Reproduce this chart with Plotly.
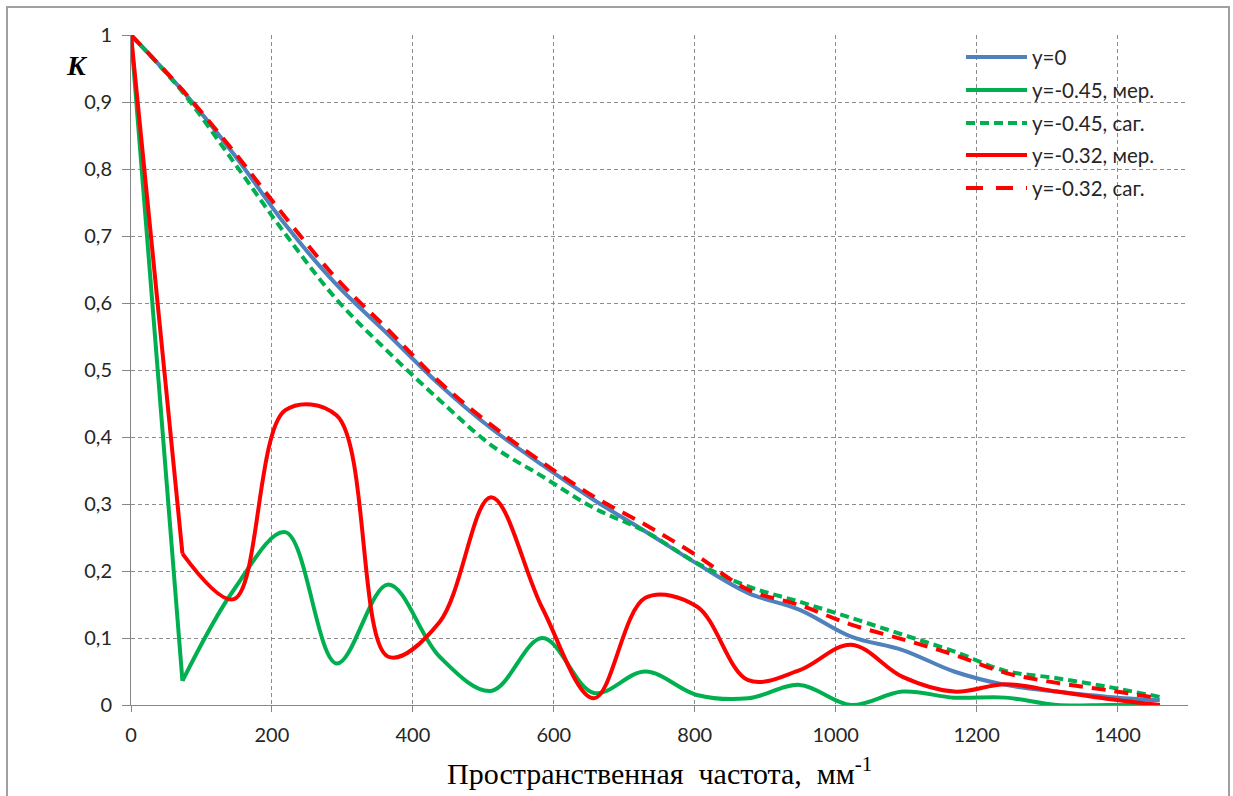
import plotly.graph_objects as go

# Spatial frequency samples, mm^-1
freq = [0, 73, 146, 219, 292, 365, 438, 511, 584, 657, 730, 803, 876, 949,
        1022, 1095, 1168, 1241, 1314, 1387, 1460]

# Contrast K for each field position / section
k_y0 = [1.0, 0.917, 0.822, 0.717, 0.627, 0.553, 0.478, 0.413, 0.358, 0.306,
        0.259, 0.211, 0.167, 0.142, 0.102, 0.082, 0.05, 0.03, 0.02, 0.012, 0.007]
k_045_mer = [1.0, 0.036, 0.172, 0.258, 0.062, 0.18, 0.072, 0.021, 0.10, 0.018,
             0.05, 0.015, 0.01, 0.03, 0.0, 0.02, 0.011, 0.011, 0.0, 0.0, 0.0]
k_045_sag = [1.0, 0.915, 0.81, 0.703, 0.605, 0.527, 0.455, 0.388, 0.341, 0.294,
             0.259, 0.212, 0.177, 0.154, 0.13, 0.105, 0.08, 0.051, 0.04, 0.027, 0.012]
k_032_mer = [1.0, 0.226, 0.158, 0.44, 0.432, 0.072, 0.124, 0.31, 0.144, 0.01,
             0.16, 0.147, 0.037, 0.052, 0.09, 0.042, 0.02, 0.031, 0.02, 0.009, 0.0]
k_032_sag = [1.0, 0.918, 0.826, 0.728, 0.636, 0.56, 0.482, 0.418, 0.362, 0.311,
             0.269, 0.223, 0.172, 0.149, 0.12, 0.098, 0.075, 0.048, 0.033, 0.022, 0.01]

names = ["y=0", "y=-0.45, мер.", "y=-0.45, саг.", "y=-0.32, мер.", "y=-0.32, саг."]
series = [k_y0, k_045_mer, k_045_sag, k_032_mer, k_032_sag]
colors = ["#4F81BD", "#00B050", "#00B050", "#FF0000", "#FF0000"]
dashes = ["solid", "solid", "9px,5px", "solid", "14px,9px"]
legend_dashes = ["solid", "solid", "9px,5px", "solid", "17px,13px"]
# meridional curves fall straight from the first sample, with a corner after it
straight_head = [False, True, False, True, False]

x_title = "Пространственная\u00a0\u00a0частота,\u00a0\u00a0мм<sup>-1</sup>"
y_title = "<b><i>K</i></b>"

W, H = 1233, 796
ML, MR, MT, MB = 131, 45, 35, 91
PW, PH = W - ML - MR, H - MT - MB


def px_x(p):
    return (p - ML) / PW


def px_y(p):
    return (H - MB - p) / PH


fig = go.Figure()
for ys, nm, col, ds, head in zip(series, names, colors, dashes, straight_head):
    if head:
        fig.add_trace(go.Scatter(
            x=freq[:2], y=ys[:2], name=nm, mode="lines",
            line=dict(color=col, width=4, dash=ds, shape="linear"),
            showlegend=False,
        ))
        xv, yv = freq[1:], ys[1:]
    else:
        xv, yv = freq, ys
    fig.add_trace(go.Scatter(
        x=xv, y=yv, name=nm, mode="lines",
        line=dict(color=col, width=4, dash=ds, shape="spline", smoothing=1),
        showlegend=False,
    ))

grid = "#8c8c8c"
tick_font = dict(family="Lato", size=20, color="#262626")

fig.update_layout(
    width=W, height=H,
    margin=dict(l=ML, r=MR, t=MT, b=MB),
    paper_bgcolor="white", plot_bgcolor="white",
    separators=", ",
    xaxis=dict(range=[0, 1500], dtick=200, tick0=0,
               showgrid=True, gridcolor=grid, griddash="4px,3px", gridwidth=1,
               showline=True, linecolor="#868686", linewidth=1,
               ticks="outside", ticklen=6, tickcolor="#868686",
               zeroline=False, tickfont=tick_font, ticklabelstandoff=6),
    yaxis=dict(range=[0, 1], dtick=0.1, tick0=0,
               showgrid=True, gridcolor=grid, griddash="4px,3px", gridwidth=1,
               showline=True, linecolor="#868686", linewidth=1,
               ticks="outside", ticklen=8, tickcolor="#868686",
               zeroline=False, tickfont=tick_font, ticklabelstandoff=6),
)

annotations = [
    dict(text=y_title, x=px_x(77), y=px_y(66), xref="paper", yref="paper",
         showarrow=False, xanchor="center", yanchor="middle",
         font=dict(family="Liberation Serif", size=28, color="black")),
    dict(text=x_title, x=0.5, y=px_y(771), xref="paper", yref="paper",
         showarrow=False, xanchor="center", yanchor="middle",
         font=dict(family="Liberation Serif", size=30, color="black")),
]

shapes = [
    # chart frame
    dict(type="rect", xref="paper", yref="paper",
         x0=px_x(7), x1=px_x(1229), y0=px_y(800), y1=px_y(7),
         line=dict(color="#a0a0a0", width=2), fillcolor="rgba(0,0,0,0)", layer="below"),
]

# legend block
row_y = [57, 90, 123, 155, 188]
for nm, col, ds, ry in zip(names, colors, legend_dashes, row_y):
    shapes.append(dict(type="line", xref="paper", yref="paper",
                       x0=px_x(966), x1=px_x(1027), y0=px_y(ry), y1=px_y(ry),
                       line=dict(color=col, width=4, dash=ds)))
    annotations.append(dict(text=nm, x=px_x(1030), y=px_y(ry), xref="paper", yref="paper",
                            showarrow=False, xanchor="left", yanchor="middle",
                            font=dict(family="Lato", size=20.5, color="#262626")))

fig.update_layout(annotations=annotations, shapes=shapes)
fig.write_html("out.html")
